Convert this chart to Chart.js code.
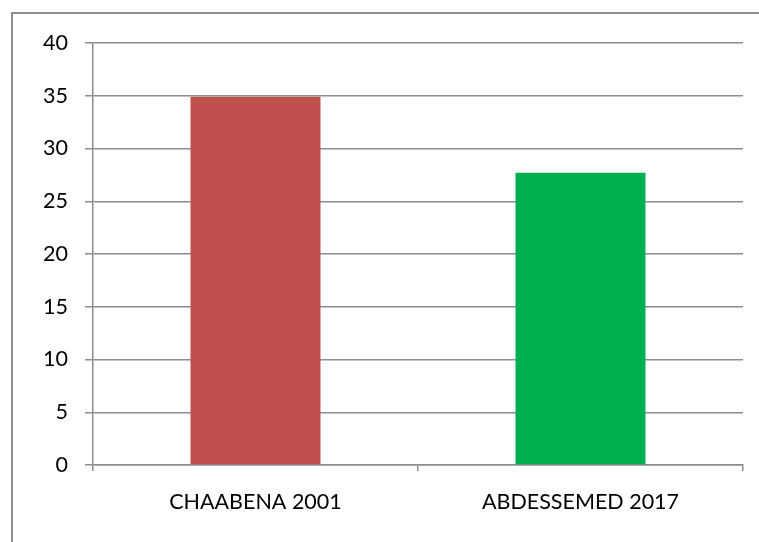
<!DOCTYPE html>
<html>
<head>
<meta charset="utf-8">
<script src="https://cdn.jsdelivr.net/npm/chart.js@4/dist/chart.umd.min.js"></script>
<style>
  html, body { margin: 0; padding: 0; background: #fff; overflow: hidden; }
  #wrap { width: 759px; height: 542px; position: relative; }
</style>
</head>
<body>
<div id="wrap"><canvas id="barChart" width="759" height="542"></canvas></div>
<script>
const categories = ['CHAABENA 2001', 'ABDESSEMED 2017'];
const values = [34.9, 27.7];
const barColors = ['#C0504D', '#00B050'];
const yTicks = [0, 5, 10, 15, 20, 25, 30, 35, 40];

const lineGray = '#8c8c8c';
const labelFont = { family: "'Lato', sans-serif", size: 21.5 };

// frame around the whole chart, running off the right and bottom edges
const framePlugin = {
  id: 'frame',
  beforeDraw(chart) {
    const c = chart.ctx;
    c.save();
    c.strokeStyle = lineGray;
    c.lineWidth = 2;
    c.strokeRect(12, 13, 800, 600);
    c.restore();
  }
};

const ctx = document.getElementById('barChart').getContext('2d');
const barChart = new Chart(ctx, {
  type: 'bar',
  data: {
    labels: categories,
    datasets: [{
      data: values,
      backgroundColor: barColors,
      borderWidth: 0,
      categoryPercentage: 1,
      barPercentage: 0.4
    }]
  },
  options: {
    responsive: false,
    animation: false,
    layout: { padding: { left: 0, top: 43, right: 16, bottom: 0 } },
    plugins: { legend: { display: false }, tooltip: { enabled: false } },
    scales: {
      y: {
        min: 0,
        max: 40,
        afterFit(scale) { scale.width = 93; },
        afterBuildTicks(scale) { scale.ticks = yTicks.map(v => ({ value: v })); },
        ticks: { color: '#000', font: labelFont, padding: 17 },
        grid: { color: lineGray, lineWidth: 1.5, tickLength: 8 },
        border: { color: lineGray, width: 1.5 }
      },
      x: {
        afterFit(scale) { scale.height = 77; },
        ticks: { color: '#000', font: labelFont, padding: 18 },
        grid: { color: lineGray, lineWidth: 1.5, tickLength: 6, drawOnChartArea: false },
        border: { color: lineGray, width: 1.5 }
      }
    }
  },
  plugins: [framePlugin]
});
</script>
</body>
</html>
